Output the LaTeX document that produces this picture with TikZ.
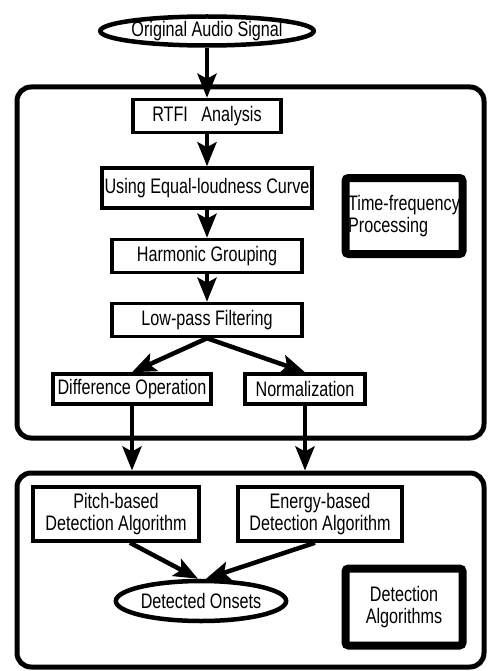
\documentclass[tikz,border=0pt]{standalone}
\usepackage{fontspec}
\setmainfont{Liberation Sans}[FakeStretch=0.77]
\usetikzlibrary{arrows.meta}
\usetikzlibrary{shapes.geometric}

\begin{document}
\begin{tikzpicture}[
  x=1pt, y=-1pt,
  every node/.style={font=\fontsize{21}{22}\selectfont},
  > = {Stealth[length=24pt,width=19pt,inset=5pt]},
  box/.style = {draw, line width=3.5pt, inner sep=0pt, minimum height=33pt},
  oval/.style = {draw, ellipse, line width=4.5pt, inner sep=0pt},
  group/.style = {draw, rounded corners=14pt, line width=5pt, inner sep=0pt},
  tag/.style = {draw, line width=8pt, rounded corners=3pt, inner sep=0pt, minimum width=117pt, minimum height=77pt},
  flow/.style = {->, line width=4.5pt}
  ]
	\useasboundingbox (0,0) rectangle (487,671);

	\coordinate (@orig)   at (207,31);
	\coordinate (@proc)   at (250.5,262.5);
	\coordinate (@rtfi)   at (207,116);
	\coordinate (@eql)    at (207,188);
	\coordinate (@harm)   at (207,256);
	\coordinate (@lpf)    at (207,320);
	\coordinate (@diff)   at (132,389);
	\coordinate (@norm)   at (305,389);
	\coordinate (@tfp)    at (404,216);
	\coordinate (@det)    at (250.5,570);
	\coordinate (@pitch)  at (116,514);
	\coordinate (@energy) at (320,514);
	\coordinate (@onsets) at (201,601);
	\coordinate (@dalg)   at (404,607);

	% the two group frames
	\node[group,minimum width=467pt,minimum height=351pt] (proc) at (@proc) {};
	\node[group,minimum width=467pt,minimum height=194pt] (det)  at (@det)  {};

	\node[oval,minimum width=206pt,minimum height=29pt] (orig) at (@orig) {Original Audio Signal};

	\node[box,minimum width=148pt]                  (rtfi) at (@rtfi) {RTFI~~~Analysis};
	\node[box,minimum width=210pt,minimum height=40pt] (eql)  at (@eql)  {Using Equal-loudness Curve};
	\node[box,minimum width=190pt]                  (harm) at (@harm) {Harmonic Grouping};
	\node[box,minimum width=190pt]                  (lpf)  at (@lpf)  {Low-pass Filtering};
	\node[box,minimum width=158pt,minimum height=30pt] (diff) at (@diff) {Difference Operation};
	\node[box,minimum width=120pt,minimum height=30pt] (norm) at (@norm) {Normalization};

	\node[tag,minimum height=76pt,align=left,inner xsep=2pt] (tfp) at (@tfp) {Time-frequency\\Processing};

	\node[box,minimum width=166pt,minimum height=54pt,align=center] (pitch)  at (@pitch)  {Pitch-based\\Detection Algorithm};
	\node[box,minimum width=164pt,minimum height=54pt,align=center] (energy) at (@energy) {Energy-based\\Detection Algorithm};
	\node[oval,minimum width=130pt,minimum height=40pt] (onsets) at (@onsets) {Detected Onsets};
	\node[tag,align=center] (dalg) at (@dalg) {Detection\\Algorithms};

	\draw[flow] (orig) -- (rtfi);
	\draw[flow] (rtfi) -- (eql);
	\draw[flow] (eql)  -- (harm);
	\draw[flow] (harm) -- (lpf);
	\draw[flow] (lpf.south) -- (diff.north);
	\draw[flow] (lpf.south) -- (norm.north);
	\draw[flow] (diff.south) -- (diff.south |- det.north);
	\draw[flow] (norm.south) -- (norm.south |- det.north);
	\draw[flow] ([xshift=14pt]pitch.south)   -- ([xshift=-3pt]onsets.north);
	\draw[flow] ([xshift=-5pt]energy.south)  -- ([xshift=5pt]onsets.north);

\end{tikzpicture}
\end{document}
